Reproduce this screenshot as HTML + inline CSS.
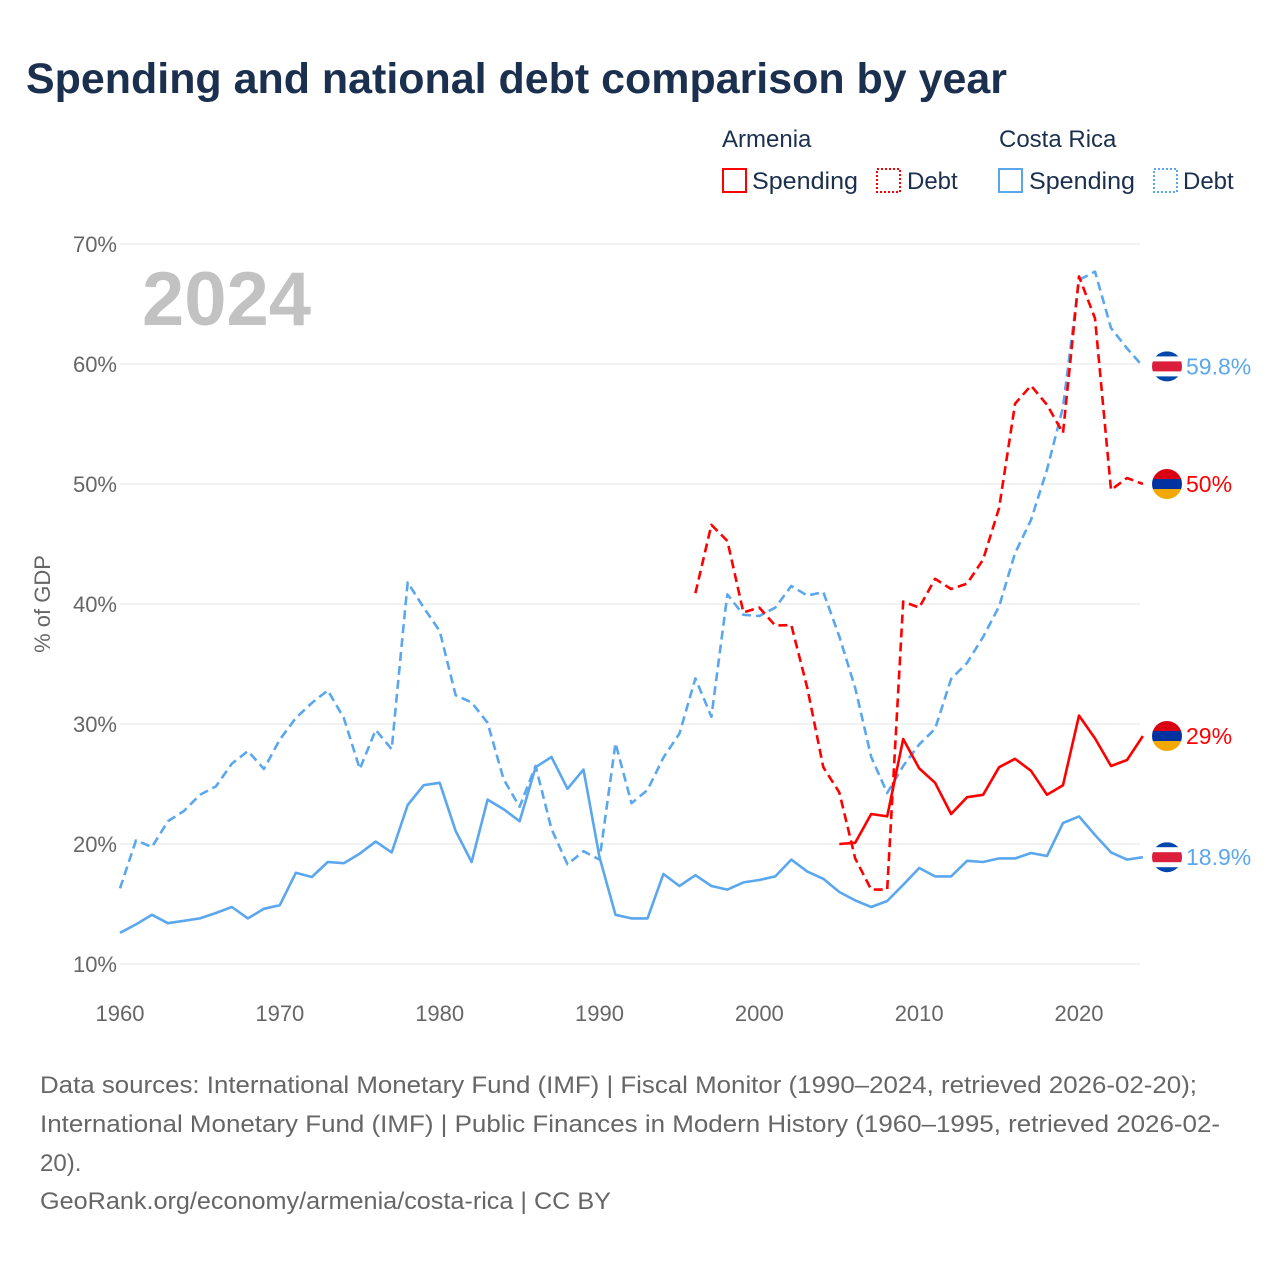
<!DOCTYPE html>
<html><head><meta charset="utf-8"><style>
body{margin:0;background:#fff;}
svg{display:block;font-family:"Liberation Sans",sans-serif;}
</style></head><body>
<svg id="chart" width="1280" height="1280" viewBox="0 0 1280 1280">
<text x="26" y="93" font-size="43" font-weight="bold" fill="#1b2f4e" textLength="981" lengthAdjust="spacingAndGlyphs">Spending and national debt comparison by year</text>
<g font-size="24" fill="#1b2f4e">
<text x="722" y="147">Armenia</text>
<text x="999" y="147">Costa Rica</text>
<g><rect x="723" y="169" width="23" height="23" fill="none" stroke="#ff0000" stroke-width="2"/><text x="752" y="189" textLength="106" lengthAdjust="spacingAndGlyphs">Spending</text></g>
<g><rect x="877" y="169" width="23" height="23" fill="none" stroke="#ff0000" stroke-width="2" stroke-dasharray="2,2"/><text x="907" y="189">Debt</text></g>
<g><rect x="999" y="169" width="23" height="23" fill="none" stroke="#5ba7ee" stroke-width="2"/><text x="1029" y="189" textLength="106" lengthAdjust="spacingAndGlyphs">Spending</text></g>
<g><rect x="1154" y="169" width="23" height="23" fill="none" stroke="#5ba7ee" stroke-width="2" stroke-dasharray="2,2"/><text x="1183" y="189">Debt</text></g>
</g>
<text x="142" y="325" font-size="76" font-weight="bold" fill="#c2c2c2">2024</text>
<text transform="translate(50,604) rotate(-90)" text-anchor="middle" font-size="22" fill="#666">% of GDP</text>
<g id="grid"></g><g id="series"></g><g id="ends"></g>
<g font-size="24" fill="#666">
<text x="40" y="1093" textLength="1157" lengthAdjust="spacingAndGlyphs">Data sources: International Monetary Fund (IMF) | Fiscal Monitor (1990–2024, retrieved 2026-02-20);</text>
<text x="40" y="1132" textLength="1180" lengthAdjust="spacingAndGlyphs">International Monetary Fund (IMF) | Public Finances in Modern History (1960–1995, retrieved 2026-02-</text>
<text x="40" y="1171">20).</text>
<text x="40" y="1209" textLength="571" lengthAdjust="spacingAndGlyphs">GeoRank.org/economy/armenia/costa-rica | CC BY</text>
</g>
</svg>
<script>
const yTicks=[10,20,30,40,50,60,70];
const xTicks=[1960,1970,1980,1990,2000,2010,2020];
const crDebt=[16.3,20.3,19.75,21.9,22.75,24.1,24.8,26.7,27.75,26.25,28.7,30.5,31.75,32.8,30.5,26.25,29.5,27.9,41.8,39.7,37.75,32.4,31.8,30.1,25.4,23.1,26.5,21.25,18.3,19.4,18.7,28.4,23.4,24.5,27.2,29.2,33.8,30.6,40.8,39.1,39.0,39.7,41.5,40.7,41.0,37.3,33.0,27.25,24.25,26.5,28.3,29.6,33.75,35.1,37.25,39.8,44.25,47.0,51.2,56.4,67.0,67.7,63.0,61.3,59.8];
const crSpend=[12.6,13.3,14.1,13.4,13.6,13.8,14.25,14.75,13.8,14.6,14.9,17.6,17.25,18.5,18.4,19.2,20.2,19.3,23.25,24.9,25.1,21.1,18.5,23.7,22.9,21.9,26.4,27.25,24.6,26.2,18.9,14.1,13.8,13.8,17.5,16.5,17.4,16.5,16.2,16.8,17.0,17.3,18.7,17.7,17.1,16.0,15.3,14.75,15.25,16.6,18.0,17.3,17.3,18.6,18.5,18.8,18.8,19.25,19.0,21.75,22.3,20.75,19.3,18.7,18.9];
const amDebt=[40.9,46.6,45.25,39.3,39.7,38.2,38.25,33.0,26.4,24.3,18.8,16.2,16.2,40.2,39.7,42.1,41.25,41.7,43.7,48.0,56.7,58.2,56.6,54.25,67.3,63.8,49.5,50.5,50.0];
const amSpend=[20.0,20.1,22.5,22.3,28.75,26.3,25.1,22.5,23.9,24.1,26.4,27.1,26.1,24.1,24.9,30.7,28.8,26.5,27.0,29.0];
const crStart=1960, amDebtStart=1996, amSpendStart=2005;
const NS='http://www.w3.org/2000/svg';
const X=y=>120+(y-1960)*(1079-120)/60;
const Y=v=>964-(v-10)*12;
function mk(t,a,p){const e=document.createElementNS(NS,t);for(const k in a)e.setAttribute(k,a[k]);p.appendChild(e);return e;}
const grid=document.getElementById('grid');
yTicks.forEach(v=>{
 const l=mk('line',{x1:120,x2:1140,y1:Y(v),y2:Y(v),stroke:'#e6e6e6','stroke-width':1},grid);
 
 
 const t=mk('text',{x:117,y:Y(v)+8,'text-anchor':'end','font-size':22,fill:'#666'},grid);
 t.textContent=v+'%';
 
 
});
xTicks.forEach(y=>{
 const t=mk('text',{x:X(y),y:1021,'text-anchor':'middle','font-size':22,fill:'#666'},grid);
 t.textContent=y;
 
 
});
const ser=document.getElementById('series');
function line(vals,start,color,dash,name){
 const pts=vals.map((v,i)=>X(start+i).toFixed(1)+','+Y(v).toFixed(1)).join(' ');
 const p=mk('polyline',{points:pts,fill:'none',stroke:color,'stroke-width':2.6,'stroke-linejoin':'round'},ser);
 if(dash)p.setAttribute('stroke-dasharray','9,5');
 
 
}
line(crDebt,crStart,'#5ba7ee',true,'costa-rica-debt-line');
line(crSpend,crStart,'#5ba7ee',false,'costa-rica-spending-line');
line(amDebt,amDebtStart,'#ff0000',true,'armenia-debt-line');
line(amSpend,amSpendStart,'#ff0000',false,'armenia-spending-line');
const ends=document.getElementById('ends');
let cid=0;
function flag(v,stripes,label,color,name){
 const cx=1167,cy=Y(v),r=15;cid++;
 const g=mk('g',{},ends);
 
 
 const cp=mk('clipPath',{id:'c'+cid},g);mk('circle',{cx,cy,r},cp);
 let tot=stripes.reduce((a,s)=>a+s[1],0),yy=cy-r;
 stripes.forEach(s=>{const h=2*r*s[1]/tot;mk('rect',{x:cx-r,y:yy,width:2*r,height:h+0.5,fill:s[0],'clip-path':'url(#c'+cid+')'},g);yy+=h;});
 const t=mk('text',{x:1186,y:cy+8,'font-size':23,fill:color},g);t.textContent=label;
}
const cr=[['#0047ab',1],['#fff',1],['#da1e3c',2],['#fff',1],['#0047ab',1]];
const am=[['#d90012',1],['#0033a0',1],['#f2a800',1]];
flag(crDebt[crDebt.length-1],cr,'59.8%','#5ba7ee','costa-rica-debt-end-label');
flag(amDebt[amDebt.length-1],am,'50%','#ff0000','armenia-debt-end-label');
flag(amSpend[amSpend.length-1],am,'29%','#ff0000','armenia-spending-end-label');
flag(crSpend[crSpend.length-1],cr,'18.9%','#5ba7ee','costa-rica-spending-end-label');
</script>
</body></html>
